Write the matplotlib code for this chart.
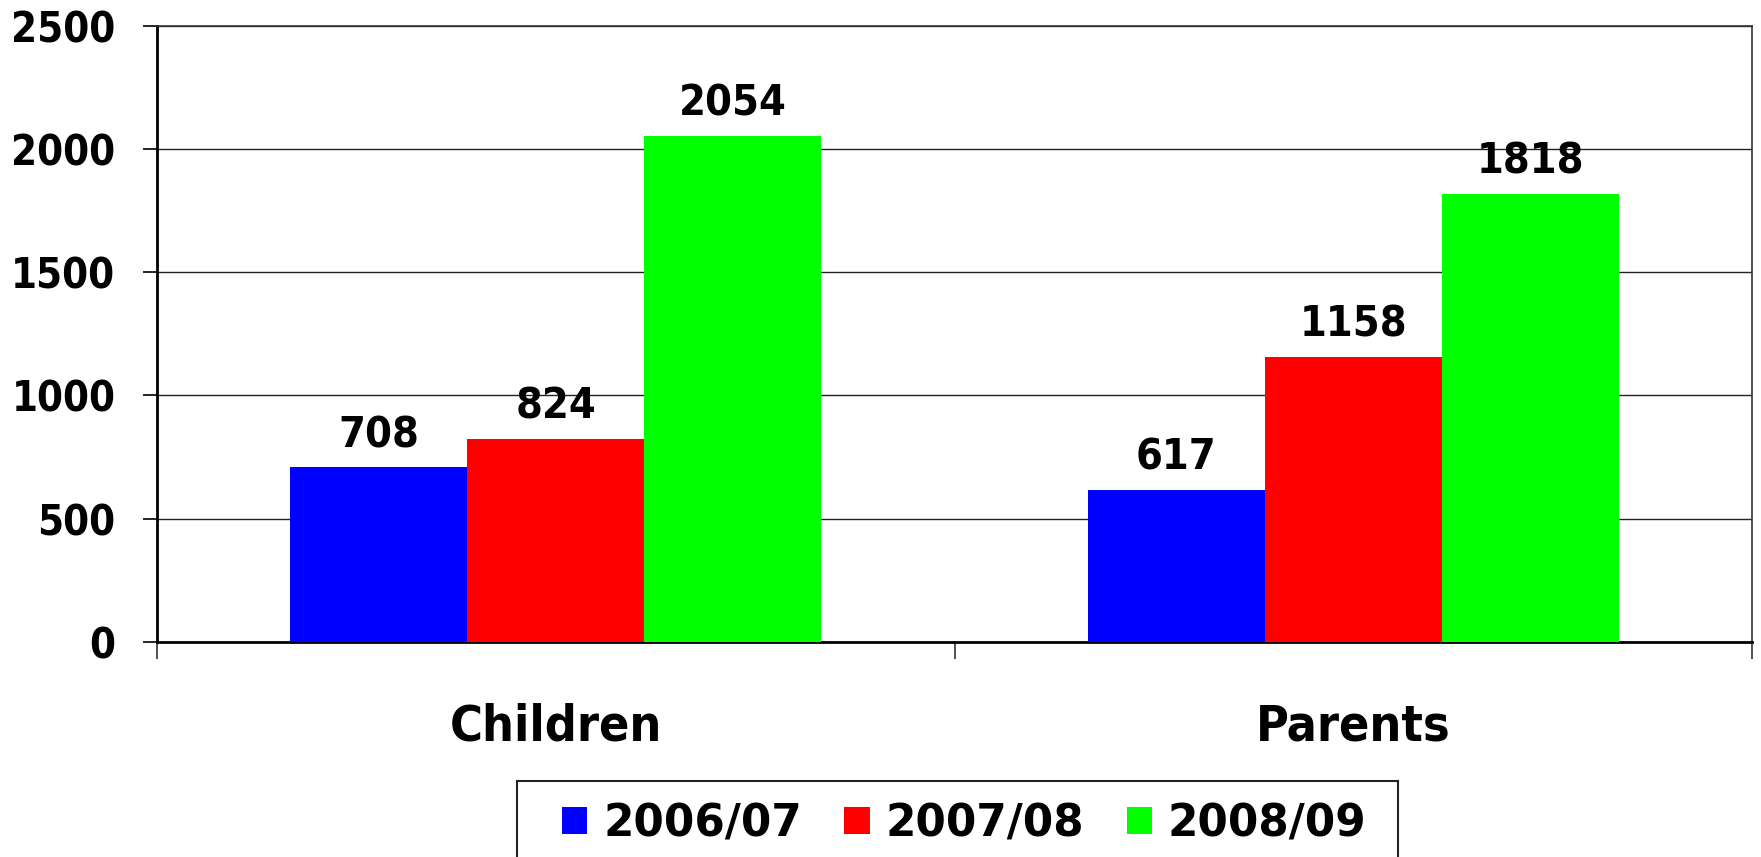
import matplotlib
matplotlib.use("Agg")
import matplotlib.pyplot as plt
from matplotlib.font_manager import FontProperties
from matplotlib.patches import Rectangle
import numpy as np

categories = ["Children", "Parents"]
series_names = ["2006/07", "2007/08", "2008/09"]
values_0607 = [708, 617]
values_0708 = [824, 1158]
values_0809 = [2054, 1818]
series_colors = ["#0000FF", "#FF0000", "#00FF00"]
y_ticks = [0, 500, 1000, 1500, 2000, 2500]

plt.rcParams['font.family'] = ['DejaVu Sans']
COND = dict(family='DejaVu Sans', weight='bold', stretch='condensed')

W, H = 1761, 857
fig = plt.figure(figsize=(W / 100, H / 100), dpi=100)
ax = fig.add_axes([157 / W, (H - 641.7) / H, (1752 - 157) / W, (641.7 - 26) / H])

x = np.arange(len(categories))
w = 0.222
all_vals = [values_0607, values_0708, values_0809]
handles = []
for i, (vals, name, col) in enumerate(zip(all_vals, series_names, series_colors)):
    bars = ax.bar(x + (i - 1) * w, vals, width=w, color=col, label=name, zorder=3)
    handles.append(bars)
    labs = ax.bar_label(bars, labels=[str(v) for v in vals], padding=8)
    for t in labs:
        t.set_fontproperties(FontProperties(size=31, **COND))

ax.set_xlim(-0.5, len(categories) - 0.5)
ax.set_ylim(0, 2500)
ax.set_yticks(y_ticks)
ax.set_yticklabels([str(t) for t in y_ticks])
for lab in ax.get_yticklabels():
    lab.set_fontproperties(FontProperties(size=30, **COND))
ax.tick_params(axis='y', direction='out', length=10, width=1.2, pad=20, color='black')

ax.set_xticks([-0.5, 0.5, 1.5])
ax.set_xticklabels([])
ax.set_xticks(x, minor=True)
ax.set_xticklabels(categories, minor=True)
for lab in ax.get_xticklabels(minor=True):
    lab.set_fontproperties(FontProperties(size=36, **COND))
ax.tick_params(axis='x', which='major', direction='out', length=12, width=1.2, color='#333333')
ax.tick_params(axis='x', which='minor', length=0, pad=44)

ax.yaxis.grid(True, color='#222222', linewidth=1.0, zorder=0)
ax.set_axisbelow(True)
for s in ['left', 'bottom']:
    ax.spines[s].set_linewidth(2.0)
    ax.spines[s].set_color('black')
for s in ['top', 'right']:
    ax.spines[s].set_linewidth(1.2)
    ax.spines[s].set_color('#333333')

# legend frame (extends past the bottom edge as in the reference)
fig.patches.append(Rectangle((516.7 / W, -0.05), (1398 - 516.7) / W, (H - 781) / H + 0.05,
                             transform=fig.transFigure, fill=False, edgecolor='#222222',
                             linewidth=1.5))
leg = fig.legend(handles=handles, labels=series_names, loc='upper left',
                 bbox_to_anchor=(562 / W, (H - 802) / H),
                 ncol=3, prop=FontProperties(size=31.5, family='DejaVu Sans', weight='bold'),
                 frameon=False, handlelength=0.58, handleheight=0.58, handletextpad=0.36,
                 columnspacing=0.97, borderpad=0, borderaxespad=0)

fig.savefig("out.png", dpi=100)
